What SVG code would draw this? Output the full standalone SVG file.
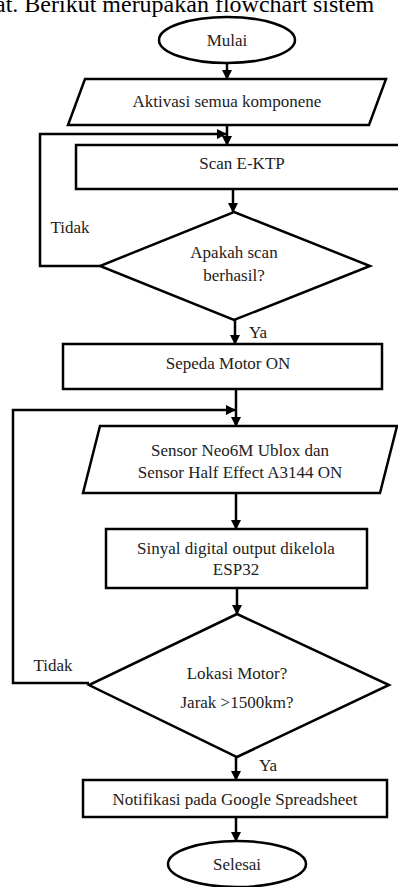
<svg xmlns="http://www.w3.org/2000/svg" width="398" height="887" viewBox="0 0 398 887">
<style>
.s{fill:#fff;stroke:#000;stroke-width:2.5}
.c{fill:none;stroke:#000;stroke-width:2.5}
text{font-family:"Liberation Serif","Times New Roman",serif;font-size:17px;fill:#222;text-anchor:middle}
</style>
<defs>
<marker id="a" markerWidth="10" markerHeight="10" refX="9" refY="5" orient="auto" markerUnits="userSpaceOnUse">
<path d="M0,0 L10,5 L0,10 Z" fill="#000"/>
</marker>
</defs>
<rect width="398" height="887" fill="#fff"/>
<text x="-5" y="12" style="font-size:24px;text-anchor:start;fill:#000">at. Berikut merupakan flowchart sistem</text>
<g id="connectors">
<line class="c" x1="227" y1="63" x2="227" y2="79" marker-end="url(#a)"/>
<line class="c" x1="227" y1="125" x2="227" y2="145" marker-end="url(#a)"/>
<polyline class="c" points="100,266 40,266 40,134 226,134" marker-end="url(#a)"/>
<line class="c" x1="233" y1="189" x2="233" y2="212" marker-end="url(#a)"/>
<line class="c" x1="235" y1="320" x2="235" y2="344" marker-end="url(#a)"/>
<line class="c" x1="236" y1="389" x2="236" y2="426" marker-end="url(#a)"/>
<polyline class="c" points="89,683 13,683 13,410 235,410" marker-end="url(#a)"/>
<line class="c" x1="236" y1="494" x2="236" y2="529" marker-end="url(#a)"/>
<line class="c" x1="237" y1="588" x2="237" y2="614" marker-end="url(#a)"/>
<line class="c" x1="236" y1="757" x2="236" y2="780" marker-end="url(#a)"/>
<line class="c" x1="236" y1="817" x2="236" y2="841" marker-end="url(#a)"/>
</g>
<g id="mulai"><ellipse class="s" cx="227" cy="40" rx="68" ry="23"/><text x="227" y="46">Mulai</text></g>
<g id="aktivasi"><polygon class="s" points="85,79 386,79 369,125 68,125"/><text x="227" y="107">Aktivasi semua komponene</text></g>
<g id="scan"><rect class="s" x="76" y="145" width="330" height="44"/><text x="242" y="169">Scan E-KTP</text></g>
<g id="cek-scan"><polygon class="s" points="234,212 370,266 234,320 100,266"/><text x="234" y="258">Apakah scan</text><text x="234" y="281">berhasil?</text></g>
<text x="70" y="233">Tidak</text>
<text x="258" y="338">Ya</text>
<g id="motor-on"><rect class="s" x="63" y="344" width="319" height="45"/><text x="228" y="369">Sepeda Motor ON</text></g>
<g id="sensor"><polygon class="s" points="100,426 397,426 380,493 83,493"/><text x="240" y="456">Sensor Neo6M Ublox dan</text><text x="240" y="478">Sensor Half Effect A3144 ON</text></g>
<g id="esp32"><rect class="s" x="106" y="529" width="261" height="59"/><text x="236" y="554">Sinyal digital output dikelola</text><text x="236" y="575">ESP32</text></g>
<g id="lokasi"><polygon class="s" points="237,614 389,685 237,757 89,685"/><text x="237" y="679">Lokasi Motor?</text><text x="237" y="708">Jarak &gt;1500km?</text></g>
<text x="53" y="671">Tidak</text>
<text x="268" y="771">Ya</text>
<g id="notifikasi"><rect class="s" x="83" y="780" width="304" height="37"/><text x="235" y="805">Notifikasi pada Google Spreadsheet</text></g>
<g id="selesai"><ellipse class="s" cx="237" cy="864" rx="69" ry="23"/><text x="237" y="870">Selesai</text></g>
</svg>
